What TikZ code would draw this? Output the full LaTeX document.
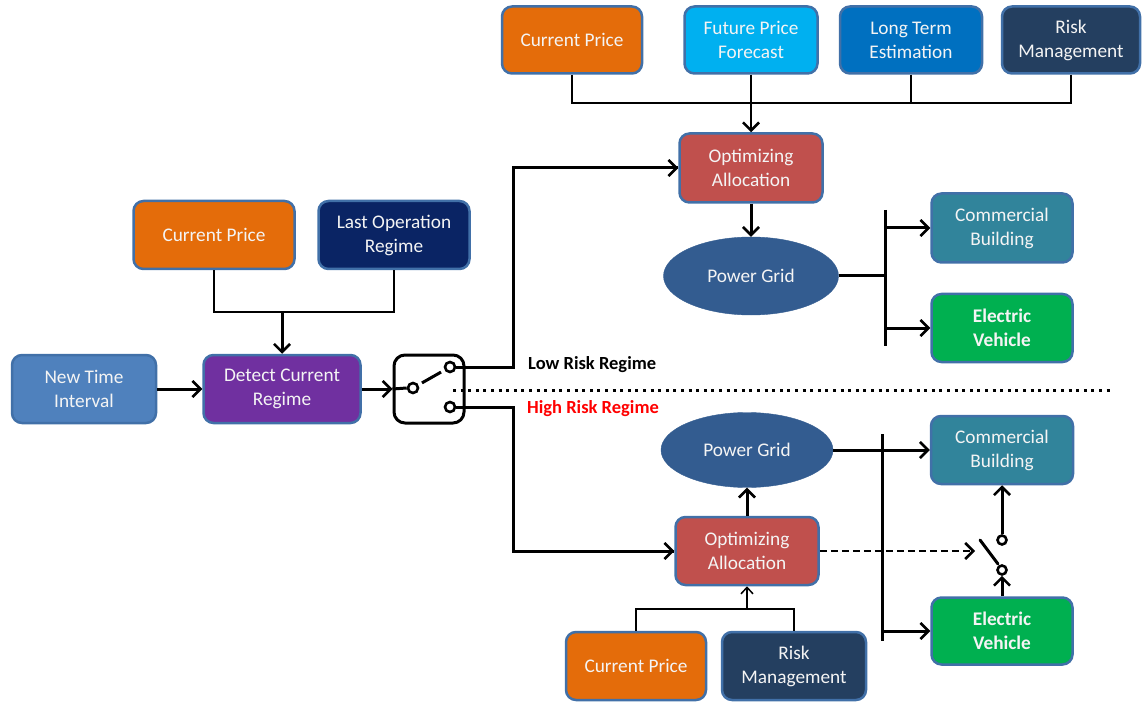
\documentclass[tikz,border=0pt]{standalone}
\usepackage{fontspec}
\setmainfont{Carlito}
\usetikzlibrary{arrows.meta,shapes.geometric}
\definecolor{cporange}{HTML}{E46C0A}
\definecolor{fplight}{HTML}{00B0F0}
\definecolor{ltblue}{HTML}{0070C0}
\definecolor{rmnavy}{HTML}{243F60}
\definecolor{lonavy}{HTML}{0A2464}
\definecolor{ntblue}{HTML}{4F81BD}
\definecolor{dtpurple}{HTML}{7030A0}
\definecolor{opred}{HTML}{C0504D}
\definecolor{pgblue}{HTML}{335C90}
\definecolor{cbteal}{HTML}{31849B}
\definecolor{evgreen}{HTML}{00B050}
\definecolor{bdblue}{HTML}{4170A8}
\definecolor{txwhite}{HTML}{F4F4F4}
\definecolor{hired}{HTML}{FF0000}
\tikzset{
  box/.style={draw=bdblue, line width=2.5pt, rounded corners=10pt, inner sep=0pt,
    text=txwhite, align=center, font=\fontsize{19.3}{24}\selectfont},
  ovl/.style={ellipse, draw=pgblue, fill=pgblue, inner sep=0pt, text=txwhite,
    font=\fontsize{19.3}{24}\selectfont},
  mline/.style={line width=3pt, black},
  tline/.style={line width=2.2pt, black},
  fline/.style={line width=1.5pt, black},
  arr/.style={-{Straight Barb[length=8pt,width=16pt,line width=2.6pt]}},
  farr/.style={-{Straight Barb[length=6.5pt,width=12pt,line width=1.5pt]}},
  circ/.style={circle, draw=black, line width=2.6pt, fill=white, minimum size=10pt, inner sep=0pt},
  lbl/.style={anchor=west, font=\bfseries\fontsize{18.5}{22}\selectfont, inner sep=0pt}
}
\begin{document}
\begin{tikzpicture}[x=1pt,y=-1pt]
\useasboundingbox (0,0) rectangle (1142,708);
% top row
\node[box, fill=cporange, minimum width=140pt, minimum height=67pt] (cp1) at (572,40) {Current Price};
\node[box, fill=fplight, minimum width=133pt, minimum height=67pt] (fp1) at (751,40) {Future Price\\Forecast};
\node[box, fill=ltblue, minimum width=142pt, minimum height=67pt] (lt1) at (911,40) {Long Term\\Estimation};
\node[box, fill=rmnavy, minimum width=138pt, minimum height=67pt] (rm1) at (1071,40) {Risk\\Management};
% upper branch
\node[box, fill=opred, minimum width=143pt, minimum height=69pt] (opt1) at (751,168) {Optimizing\\Allocation};
\node[ovl, minimum width=175pt, minimum height=78pt] (pg1) at (751,276) {Power Grid};
\node[box, fill=cbteal, minimum width=141pt, minimum height=69pt] (cb1) at (1002,228) {Commercial\\Building};
\node[box, fill=evgreen, minimum width=141pt, minimum height=68pt, font=\bfseries\fontsize{19.3}{24}\selectfont] (ev1) at (1002,328) {Electric\\Vehicle};
% left
\node[box, fill=cporange, minimum width=161pt, minimum height=68pt] (cp2) at (214,235) {Current Price};
\node[box, fill=lonavy, minimum width=151pt, minimum height=68pt] (lo) at (394,235) {Last Operation\\Regime};
\node[box, fill=ntblue, minimum width=144pt, minimum height=68pt] (nt) at (84,389) {New Time\\Interval};
\node[box, fill=dtpurple, minimum width=157pt, minimum height=68pt] (det) at (282,389) {Detect Current\\Regime};
% switch box
\node[draw=black, line width=3pt, fill=white, rounded corners=11pt, minimum width=70pt, minimum height=68pt, inner sep=0pt] (sw) at (429,389) {};
\node[circ] (c1) at (413,388) {};
\node[circ] (c2) at (450,367) {};
\node[circ] (c3) at (450,407) {};
% lower branch
\node[ovl, minimum width=172pt, minimum height=75pt] (pg2) at (747,450) {Power Grid};
\node[box, fill=cbteal, minimum width=142pt, minimum height=68pt] (cb2) at (1002,450) {Commercial\\Building};
\node[box, fill=opred, minimum width=143pt, minimum height=68pt] (opt2) at (747,551) {Optimizing\\Allocation};
\node[box, fill=evgreen, minimum width=141pt, minimum height=67pt, font=\bfseries\fontsize{19.3}{24}\selectfont] (ev2) at (1002,631) {Electric\\Vehicle};
\node[box, fill=cporange, minimum width=140pt, minimum height=68pt] (cp3) at (636,666) {Current Price};
\node[box, fill=rmnavy, minimum width=144pt, minimum height=68pt] (rm3) at (794,666) {Risk\\Management};
% lower switch
\node[circ, minimum size=9pt] (s1) at (1002,540) {};
\node[circ, minimum size=9pt] (s2) at (1002,570) {};
\coordinate (lv1) at (980,540);
\coordinate (lv2) at (998,564);
\coordinate (dend) at (975,551);
% labels
\node[lbl, text=black] (low) at (528,365) {Low Risk Regime};
\node[lbl, text=hired] (high) at (527,409) {High Risk Regime};
% coordinates
\coordinate (tb) at (751,103);
\coordinate (lb) at (282,312);
\coordinate (j1) at (513,367);
\coordinate (j2) at (513,407);
\coordinate (d1) at (453,390);
\coordinate (d2) at (1112,390);
\coordinate (bu1) at (885,276);
\coordinate (bu1t) at (885,210);
\coordinate (bu1b) at (885,346);
\coordinate (bu2t) at (882,434);
\coordinate (bu2b) at (882,641);
\coordinate (bb) at (747,609);
% top bus
\draw[tline] (cp1.south) |- (tb);
\draw[tline] (rm1.south) |- (tb);
\draw[tline] (lt1.south) -- (lt1.south |- tb);
\draw[tline, arr] (fp1.south) -- (opt1.north);
\draw[mline, arr] (opt1.south) -- (pg1.north);
\draw[mline] (pg1.east) -- (bu1);
\draw[mline] (bu1t) -- (bu1b);
\draw[mline, arr] (bu1 |- cb1.west) -- (cb1.west);
\draw[mline, arr] (bu1 |- ev1.west) -- (ev1.west);
% left part
\draw[tline] (cp2.south) |- (lb);
\draw[tline] (lo.south) |- (lb);
\draw[mline, arr] (lb) -- (det.north);
\draw[mline, arr] (nt.east) -- (det.west);
\draw[mline, arr] (det.east) -- (sw.west);
\draw[mline] (sw.west) -- (c1.west);
\draw[mline, shorten <=4pt, shorten >=4pt] (c1) -- (c2);
\draw[mline] (c2.east) -- (j1) |- (opt1.west);
\draw[mline] (c3.east) -- (j2) |- (opt2.west);
\draw[mline, arr] (j1 |- opt1.west) -- (opt1.west);
\draw[mline, arr] (j2 |- opt2.west) -- (opt2.west);
\draw[line width=3pt, dash pattern=on 3pt off 4.6pt] (d1) -- (d2);
% lower part
\draw[mline, arr] (opt2.north) -- (pg2.south);
\draw[mline] (bu2t) -- (bu2b);
\draw[mline, arr] (pg2.east) -- (cb2.west);
\draw[mline, arr] (bu2t |- ev2.west) -- (ev2.west);
\draw[tline, dash pattern=on 7pt off 4pt, arr] (opt2.east) -- (dend);
\draw[mline, line cap=round] (lv1) -- (lv2);
\draw[mline, arr] (s1.north) -- (cb2.south);
\draw[mline, arr] (ev2.north) -- (s2.south);
% bottom inputs
\draw[fline] (cp3.north) |- (bb);
\draw[fline] (rm3.north) |- (bb);
\draw[fline, farr] (bb) -- (opt2.south);
\end{tikzpicture}
\end{document}
